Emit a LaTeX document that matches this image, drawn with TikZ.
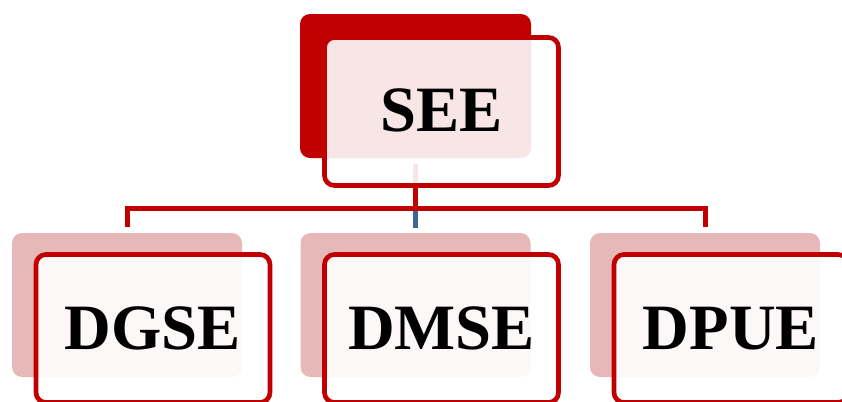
\documentclass[tikz,border=0pt]{standalone}
\usepackage{fontspec}
\setmainfont{Liberation Serif}
\definecolor{dred}{HTML}{C00000}
\definecolor{lpink}{HTML}{E6B8B8}
\definecolor{sblue}{HTML}{3F6598}
\tikzset{
  backdark/.style={rectangle, rounded corners=7.5pt, fill=dred, minimum width=173.25pt, minimum height=108pt, inner sep=0pt, outer sep=0pt},
  backlight/.style={rectangle, rounded corners=7.5pt, fill=lpink, minimum width=172.5pt, minimum height=108pt, inner sep=0pt, outer sep=0pt},
  frontbox/.style={rectangle, rounded corners=7.5pt, draw=dred, line width=3.5pt, fill=white, fill opacity=0.9, text opacity=1, minimum width=175.5pt, minimum height=111pt, inner sep=0pt, outer sep=0pt, font=\bfseries\fontsize{48.5}{52}\selectfont},
  conn/.style={draw=dred, line width=3.75pt, miter limit=10},
  blueconn/.style={draw=sblue, line width=3.75pt}
}
\begin{document}
\begin{tikzpicture}[x=0.75pt, y=-0.75pt]
\useasboundingbox (0,0) rectangle (842,401);
% back plates
\node[backdark] (seeB) at (415.5,86) {};
\node[backlight] (gseB) at (127,305) {};
\node[backlight] (mseB) at (415.5,305) {};
\node[backlight] (puB) at (705,305) {};
% connectors
\coordinate (bar) at (415.5,208.5);
\draw[conn] ([yshift=-4.5pt]seeB.south) -- (bar);
\draw[conn] ([yshift=4.5pt]gseB.north) -- (gseB.north |- bar) -- (puB.north |- bar) -- ([yshift=4.5pt]puB.north);
\draw[blueconn] ([yshift=-1.9pt]bar) -- ([yshift=3.75pt]mseB.north);
% front boxes
\node[frontbox] (see) at (441.5,111.5) {\raisebox{1.5pt}{SEE}};
\node[frontbox] (gse) at (153,328.5) {DGSE};
\node[frontbox] (mse) at (441.5,328.5) {DMSE};
\node[frontbox] (pue) at (731,328.5) {DPUE};
\end{tikzpicture}
\end{document}
